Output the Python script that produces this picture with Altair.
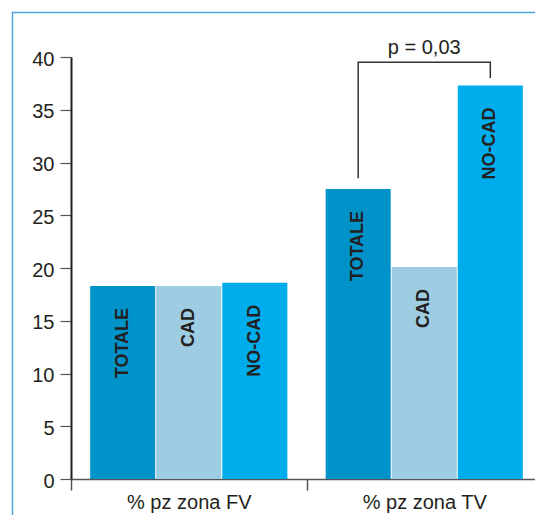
import altair as alt
import pandas as pd

groups = ["% pz zona FV", "% pz zona TV"]
categories = ["TOTALE", "CAD", "NO-CAD"]
fv_values = [18.3, 18.3, 18.6]
tv_values = [27.5, 20.1, 37.3]
colors = ["#0093c9", "#9ecce3", "#00adec"]

bracket_group = ["% pz zona TV"] * 4
bracket_cat = ["TOTALE", "TOTALE", "NO-CAD", "NO-CAD"]
bracket_y = [28.5, 39.5, 39.5, 38.0]
p_label = ["p = 0,03"]
p_label_y = [40.3]

rows = []
for g, vals in zip(groups, [fv_values, tv_values]):
    for c, v in zip(categories, vals):
        rows.append({"group": g, "cat": c, "value": v})
df = pd.DataFrame(rows)

bracket_df = pd.DataFrame({"group": bracket_group, "cat": bracket_cat,
                           "value": bracket_y, "order": list(range(len(bracket_y)))})
p_df = pd.DataFrame({"group": ["% pz zona TV"], "value": p_label_y, "label": p_label})

FONT = "Liberation Sans"
DARK = "#231f20"

x_enc = alt.X(
    "group:N",
    sort=groups,
    scale=alt.Scale(domain=groups, range=[0, 471], paddingInner=0, paddingOuter=0),
    axis=alt.Axis(title=None, labelAngle=0, tickBand="extent", tickSize=11,
                  labelPadding=2, labelFontSize=20, labelFont=FONT, labelColor=DARK,
                  domainColor="#555555", tickColor="#555555", domainWidth=1.5,
                  tickWidth=1.5),
)
xoff_enc = alt.XOffset("cat:N", sort=categories,
                       scale=alt.Scale(domain=categories, paddingInner=0.015,
                                       paddingOuter=0.29))
y_enc = alt.Y(
    "value:Q",
    scale=alt.Scale(domain=[0, 40], nice=False, zero=True),
    axis=alt.Axis(title=None, values=list(range(0, 45, 5)), tickSize=11,
                  labelPadding=6, labelFontSize=20, labelFont=FONT, labelColor=DARK,
                  grid=False, domainColor=DARK, domainWidth=2, tickColor="#555555",
                  tickWidth=1.2, labelBaseline="middle", labelOffset=2),
)

frame = alt.Chart(pd.DataFrame({"a": [0]})).mark_rect(
    fill="transparent", stroke="#4aa8d8", strokeWidth=1.5
).encode(x=alt.value(-58.5), x2=alt.value(800), y=alt.value(-44.5), y2=alt.value(800))

bars = alt.Chart(df).mark_bar().encode(
    x=x_enc,
    xOffset=xoff_enc,
    y=y_enc,
    color=alt.Color("cat:N", scale=alt.Scale(domain=categories, range=colors), legend=None),
)

labels = alt.Chart(df).mark_text(
    angle=270, align="right", baseline="middle", dx=-22, fontSize=18,
    fontWeight="bold", font=FONT, color=DARK
).encode(x=alt.X("group:N", sort=groups), xOffset=alt.XOffset("cat:N", sort=categories),
         y="value:Q", text="cat:N")

bracket = alt.Chart(bracket_df).mark_line(color="#333333", strokeWidth=1.5).encode(
    x=alt.X("group:N", sort=groups),
    xOffset=alt.XOffset("cat:N", sort=categories),
    y="value:Q",
    order="order:Q",
)

ptext = alt.Chart(p_df).mark_text(
    align="center", baseline="alphabetic", fontSize=20, font=FONT, color=DARK
).encode(x=alt.X("group:N", sort=groups), y="value:Q", text="label:N")

chart = alt.layer(frame, bars, labels, bracket, ptext).properties(
    width=464, height=422,
    padding={"left": 63, "top": 49, "right": 0, "bottom": 36},
    autosize=alt.AutoSizeParams(type="none"),
).configure_view(stroke=None)

chart.save("out.html", embed_options={"renderer": "svg", "actions": False})
